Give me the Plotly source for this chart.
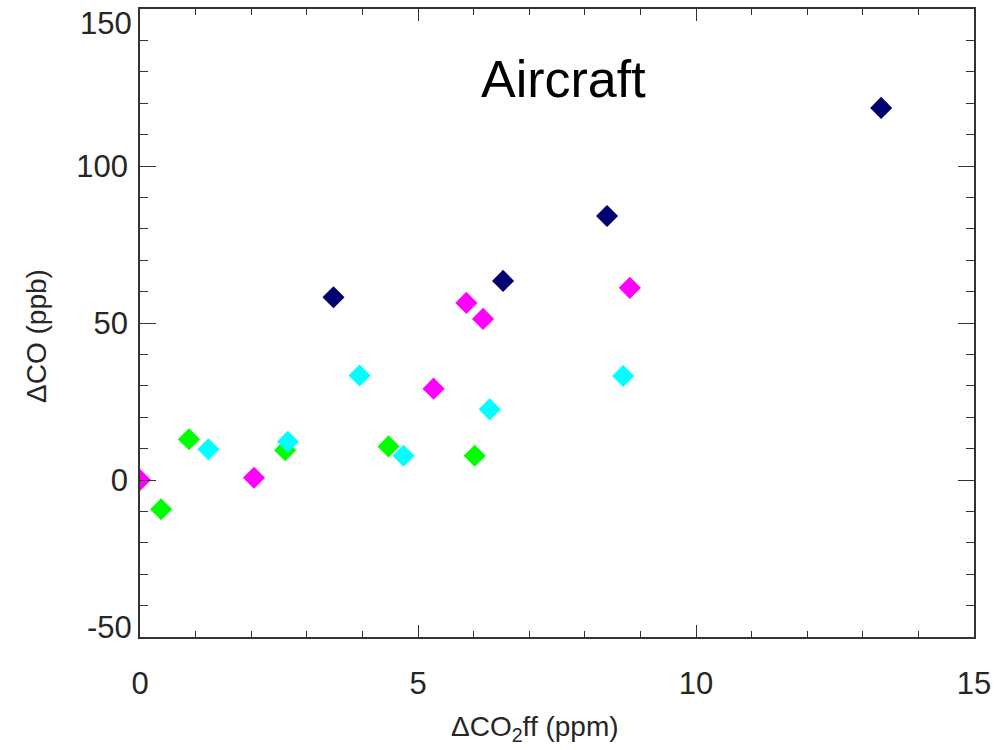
import plotly.graph_objects as go

navy_x = [3.48, 6.53, 8.40, 13.33]
navy_y = [58.2, 63.4, 84.1, 118.5]

magenta_x = [0.0, 2.05, 5.28, 5.87, 6.17, 8.81]
magenta_y = [0.0, 0.7, 29.1, 56.4, 51.3, 61.2]

cyan_x = [1.23, 2.66, 3.95, 4.74, 6.29, 8.69]
cyan_y = [9.8, 12.2, 33.3, 7.7, 22.5, 33.1]

green_x = [0.38, 0.88, 2.61, 4.47, 6.02]
green_y = [-9.3, 13.0, 9.5, 10.7, 7.7]

x_ticks = [0, 5, 10, 15]
y_ticks = [-50, 0, 50, 100, 150]

FONT = "Liberation Sans, Arial, Helvetica, sans-serif"
AX = "#333333"
TXT = "#262626"

fig = go.Figure()
for xs, ys, col in [
    (navy_x, navy_y, "#000070"),
    (magenta_x, magenta_y, "#ff00ff"),
    (green_x, green_y, "#00ff00"),
    (cyan_x, cyan_y, "#00ffff"),
]:
    fig.add_trace(go.Scatter(
        x=xs, y=ys, mode="markers",
        marker=dict(symbol="diamond", size=17, color=col, line=dict(width=0)),
        showlegend=False, cliponaxis=True,
    ))

# y tick labels: edge labels (at the frame) nudged inward as in the reference
edge_shift = {150: -14, -50: 10}
annos = []
for v in y_ticks:
    if v in edge_shift:
        annos.append(dict(
            text=str(v), x=0, y=v, xref="paper", yref="y", showarrow=False,
            xanchor="right", yanchor="middle", xshift=-6, yshift=edge_shift[v],
            font=dict(size=31, color=TXT, family=FONT),
        ))
inner_y = [v for v in y_ticks if v not in edge_shift]

annos += [
    dict(text="Aircraft", x=0.508, y=0.888, xref="paper", yref="paper",
         showarrow=False, font=dict(size=52, color="black", family=FONT),
         xanchor="center", yanchor="middle"),
    dict(text="ΔCO<sub>2</sub>ff (ppm)", x=0.474, y=-0.146, xref="paper", yref="paper",
         showarrow=False, font=dict(size=28, color=TXT, family=FONT),
         xanchor="center", yanchor="middle"),
    dict(text="ΔCO (ppb)", x=-0.125, y=0.479, xref="paper", yref="paper", textangle=-90,
         showarrow=False, font=dict(size=28, color=TXT, family=FONT),
         xanchor="center", yanchor="middle"),
]

fig.update_layout(
    width=998, height=750,
    margin=dict(l=140, r=23, t=7, b=113),
    plot_bgcolor="white", paper_bgcolor="white",
    font=dict(family=FONT, color=TXT),
    annotations=annos,
)

fig.update_xaxes(
    range=[0, 15], tickvals=x_ticks, ticktext=[str(v) for v in x_ticks],
    showgrid=False, zeroline=False,
    showline=True, linecolor=AX, linewidth=1.5, mirror="ticks",
    ticks="inside", ticklen=12, tickwidth=1.2, tickcolor=AX,
    minor=dict(dtick=1, ticks="inside", ticklen=6, tickwidth=1.2, tickcolor=AX, showgrid=False),
    tickfont=dict(size=31, color=TXT), ticklabelstandoff=18,
)
fig.update_yaxes(
    range=[-50, 150], tickvals=inner_y, ticktext=[str(v) for v in inner_y],
    showgrid=False, zeroline=False,
    showline=True, linecolor=AX, linewidth=1.5, mirror="ticks",
    ticks="inside", ticklen=16, tickwidth=1.2, tickcolor=AX,
    minor=dict(dtick=10, ticks="inside", ticklen=8, tickwidth=1.2, tickcolor=AX, showgrid=False),
    tickfont=dict(size=31, color=TXT), ticklabelstandoff=4,
)

fig.write_html("out.html")
